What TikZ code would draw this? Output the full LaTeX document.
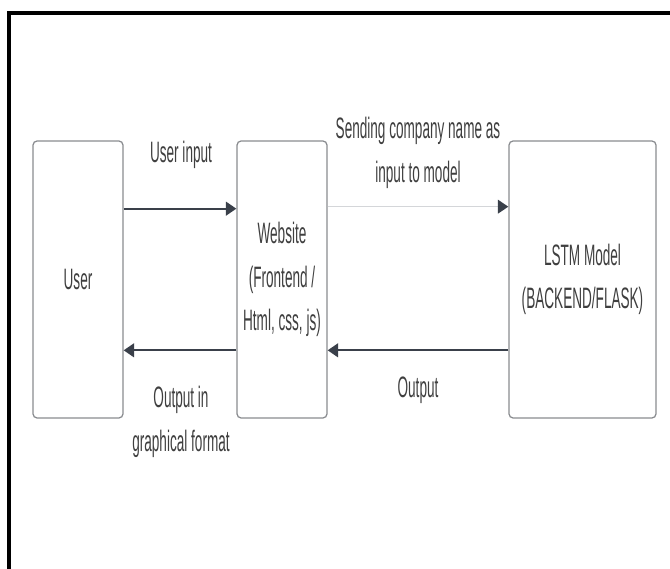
\documentclass[tikz,border=0pt]{standalone}
\usepackage{fontspec}
\setmainfont{Liberation Sans}[FakeStretch=0.46]
\usetikzlibrary{arrows.meta}
\definecolor{inkgray}{HTML}{3F3F3F}
\definecolor{edgegray}{HTML}{8A8C90}
\definecolor{flowdark}{HTML}{3A404A}
\definecolor{flowlight}{HTML}{D4D6D9}
\begin{document}
\begin{tikzpicture}[
  x=0.025cm, y=-0.025cm,
  blockbox/.style={draw=edgegray, line width=0.9pt, rounded corners=3pt, fill=white,
    minimum height=6.925cm, align=center, text=inkgray, font=\fontsize{21}{31}\selectfont},
  note/.style={align=center, text=inkgray, font=\fontsize{21}{31}\selectfont},
  flow/.style={draw=flowdark, line width=1.6pt, -{Triangle[length=0.26cm, width=0.34cm]}},
  flowfaint/.style={draw=flowlight, line width=1pt, -{Triangle[length=0.26cm, width=0.34cm, color=flowdark]}}
]
\useasboundingbox (0,0) rectangle (670,569);
% frame
\draw[black, line width=2.2pt] (9,569) -- (9,13) -- (670,13);
% blocks
\node[blockbox, minimum width=2.25cm] (user) at (78,279.5) {User};
\node[blockbox, minimum width=2.25cm] (site) at (282,279.5) {Website\\(Frontend /\\Html, css, js)};
\node[blockbox, minimum width=3.675cm] (lstm) at (582.5,279.5) {LSTM Model\\(BACKEND/FLASK)};
% connectors
\draw[flow] ([yshift=1.77cm]user.east) -- ([yshift=1.77cm]site.west);
\draw[flow] ([yshift=-1.77cm]site.west) -- ([yshift=-1.77cm]user.east);
\draw[flowfaint] ([yshift=1.82cm]site.east) -- ([yshift=1.82cm]lstm.west);
\draw[flow] ([yshift=-1.77cm]lstm.west) -- ([yshift=-1.77cm]site.east);
% labels
\node[note] (lblin) at (181,155) {User input};
\node[note] (lblsend) at (418,153) {Sending company name as\\input to model};
\node[note] (lblgraph) at (181,422) {Output in\\graphical format};
\node[note] (lblout) at (418,390) {Output};
\end{tikzpicture}
\end{document}
